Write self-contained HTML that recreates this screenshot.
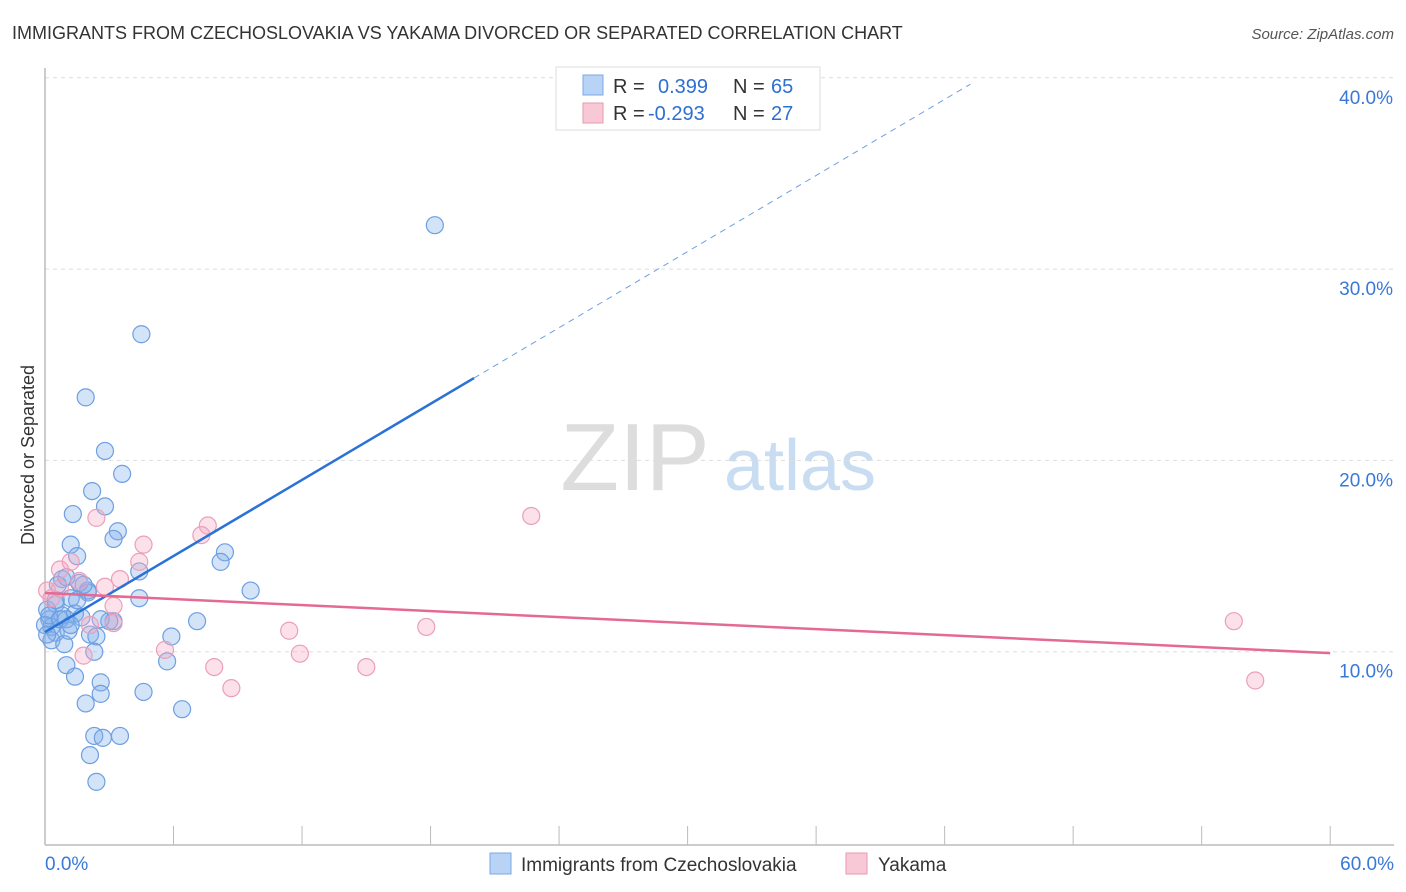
<!DOCTYPE html>
<html><head><meta charset="utf-8">
<style>
body{margin:0;background:#fff;font-family:"Liberation Sans",sans-serif;}
#wrap{position:relative;width:1406px;height:892px;overflow:hidden;}
svg text{font-family:"Liberation Sans",sans-serif;}
</style></head>
<body>
<div id="wrap">
<svg id="chart" width="1406" height="892">
<text x="12" y="39" font-size="18" fill="#333">IMMIGRANTS FROM CZECHOSLOVAKIA VS YAKAMA DIVORCED OR SEPARATED CORRELATION CHART</text>
<text x="1394" y="39" font-size="15" fill="#555" font-style="italic" text-anchor="end">Source: ZipAtlas.com</text>
<text x="34" y="455" font-size="18" fill="#333" text-anchor="middle" transform="rotate(-90 34 455)">Divorced or Separated</text>
<g>
<text x="635" y="490" font-size="96" fill="#ddd" font-family="Liberation Serif" text-anchor="middle">ZIP</text>
<text x="800" y="490" font-size="72" fill="#c8dcf2" text-anchor="middle">atlas</text>
</g>
<g id="grid"></g>
<g id="axes"></g>
<g id="pts"></g>
<g id="lines"></g>
<g>
<rect x="556" y="67" width="264" height="63" fill="#fff" stroke="#ddd"/>
<rect x="583" y="75" width="20" height="20" fill="#b8d3f5" stroke="#7aa8e6"/>
<text x="613" y="93" font-size="20" fill="#333">R =</text>
<text x="658" y="93" font-size="20" fill="#2f6fd0">0.399</text>
<text x="733" y="93" font-size="20" fill="#333">N =</text>
<text x="771" y="93" font-size="20" fill="#2f6fd0">65</text>
<rect x="583" y="103" width="20" height="20" fill="#f9c8d6" stroke="#e89ab0"/>
<text x="613" y="120" font-size="20" fill="#333">R =</text>
<text x="648" y="120" font-size="20" fill="#2f6fd0">-0.293</text>
<text x="733" y="120" font-size="20" fill="#333">N =</text>
<text x="771" y="120" font-size="20" fill="#2f6fd0">27</text>
</g>
<g>
<rect x="490" y="853" width="21" height="21" fill="#b8d3f5" stroke="#7aa8e6"/>
<text x="521" y="871" font-size="19" fill="#333">Immigrants from Czechoslovakia</text>
<rect x="846" y="853" width="21" height="21" fill="#f9c8d6" stroke="#e89ab0"/>
<text x="878" y="871" font-size="19" fill="#333">Yakama</text>
</g>
</svg>
</div>
<script>
const yTicks=[10,20,30,40];
const yTickLabels=["10.0%","20.0%","30.0%","40.0%"];
const xTickCount=10;
const xLabels=["0.0%","60.0%"];
const blueX=[18.2,4.5,1.9,2.8,3.6,2.2,2.8,1.3,3.4,3.2,1.2,1.5,8.4,8.2,4.4,9.6,4.4,0.8,1.6,2.0,1.2,0.5,0.8,1.4,0.2,1.0,0.3,0.5,2.1,2.4,5.9,7.1,3.2,0.3,0.9,2.3,1.0,5.7,1.4,2.6,2.6,4.6,1.9,6.4,2.3,2.7,3.5,2.1,2.4,0.6,0.1,0.0,0.2,0.7,1.7,2.0,3.0,0.5,1.1,2.6,1.2,1.5,0.1,1.8,1.0];
const blueY=[32.4,26.7,23.4,20.6,19.4,18.5,17.7,17.3,16.4,16.0,15.7,15.1,15.3,14.8,14.3,13.3,12.9,13.9,13.7,13.2,12.9,12.6,12.0,12.1,11.8,11.8,11.4,11.1,11.0,10.9,10.9,11.7,11.7,10.7,10.5,10.1,9.4,9.6,8.8,8.5,7.9,8.0,7.4,7.1,5.7,5.6,5.7,4.7,3.3,13.6,12.3,11.5,12.0,11.8,11.9,13.3,11.7,12.8,11.2,11.8,11.5,12.8,11.0,13.6,14.0];
const pinkX=[22.7,55.5,56.5,2.4,7.6,7.3,4.6,4.4,3.5,2.8,0.7,1.2,1.6,3.2,3.2,1.8,5.6,7.9,8.7,11.4,11.9,15.0,17.8,2.1,0.3,0.1,0.7];
const pinkY=[17.2,11.7,8.6,17.1,16.7,16.2,15.7,14.8,13.9,13.5,14.4,14.8,13.8,12.5,11.6,9.9,10.2,9.3,8.2,11.2,10.0,9.3,11.4,11.5,12.9,13.3,13.4];
const blueFit=[11.13,24.41,20.03,43.2];
const pinkFit=[13.17,10.03];
const X=v=>45+v*21.42, Y=v=>845-v*19.13;
const NS="http://www.w3.org/2000/svg";
function mk(t,a,p){const e=document.createElementNS(NS,t);for(const k in a)e.setAttribute(k,a[k]);p.appendChild(e);return e;}
const grid=document.getElementById('grid'),axes=document.getElementById('axes'),pts=document.getElementById('pts'),lines=document.getElementById('lines');
yTicks.forEach((t,i)=>{
 const l=mk('line',{x1:45,x2:1394,y1:Y(t)-2,y2:Y(t)-2,stroke:'#ddd','stroke-dasharray':'4,4'},grid);
 
 
 const tx=mk('text',{x:1393,y:Y(t)+24,'font-size':19,fill:'#3a78d8','text-anchor':'end'},axes);
 tx.textContent=yTickLabels[i];
 
 
});
const ax=mk('line',{x1:45,x2:1394,y1:845,y2:845,stroke:'#bbb','stroke-width':1.5},axes);


const ay=mk('line',{x1:45,x2:45,y1:68,y2:845,stroke:'#bbb','stroke-width':1.5},axes);


for(let i=1;i<=xTickCount;i++){
 const xx=X(i*6);
 const t=mk('line',{x1:xx,x2:xx,y1:826,y2:845,stroke:'#bbb'},axes);
 
 
}
const xl0=mk('text',{x:45,y:870,'font-size':19,fill:'#3a78d8'},axes);
xl0.textContent=xLabels[0];


const xl1=mk('text',{x:1394,y:870,'font-size':19,fill:'#3a78d8','text-anchor':'end'},axes);
xl1.textContent=xLabels[1];


blueX.forEach((v,i)=>{
 const c=mk('circle',{cx:X(v),cy:Y(blueY[i]),r:8.5,fill:'rgba(130,175,235,0.35)',stroke:'#6d9fe2','stroke-width':1.2},pts);
 
 
});
pinkX.forEach((v,i)=>{
 const c=mk('circle',{cx:X(v),cy:Y(pinkY[i]),r:8.5,fill:'rgba(245,170,195,0.35)',stroke:'#eb9fb8','stroke-width':1.2},pts);
 
 
});
const bs=(blueFit[1]-blueFit[0])/blueFit[2];
const b1=mk('line',{x1:X(0),y1:Y(blueFit[0]),x2:X(blueFit[2]),y2:Y(blueFit[1]),stroke:'#2a72d6','stroke-width':2.5},lines);


const b2=mk('line',{x1:X(blueFit[2]),y1:Y(blueFit[1]),x2:X(blueFit[3]),y2:Y(blueFit[0]+bs*blueFit[3]),stroke:'#6d9fe2','stroke-width':1,'stroke-dasharray':'6,5'},lines);


const p1=mk('line',{x1:X(0),y1:Y(pinkFit[0]),x2:X(60),y2:Y(pinkFit[1]),stroke:'#e56a93','stroke-width':2.5},lines);


</script>
</body></html>
